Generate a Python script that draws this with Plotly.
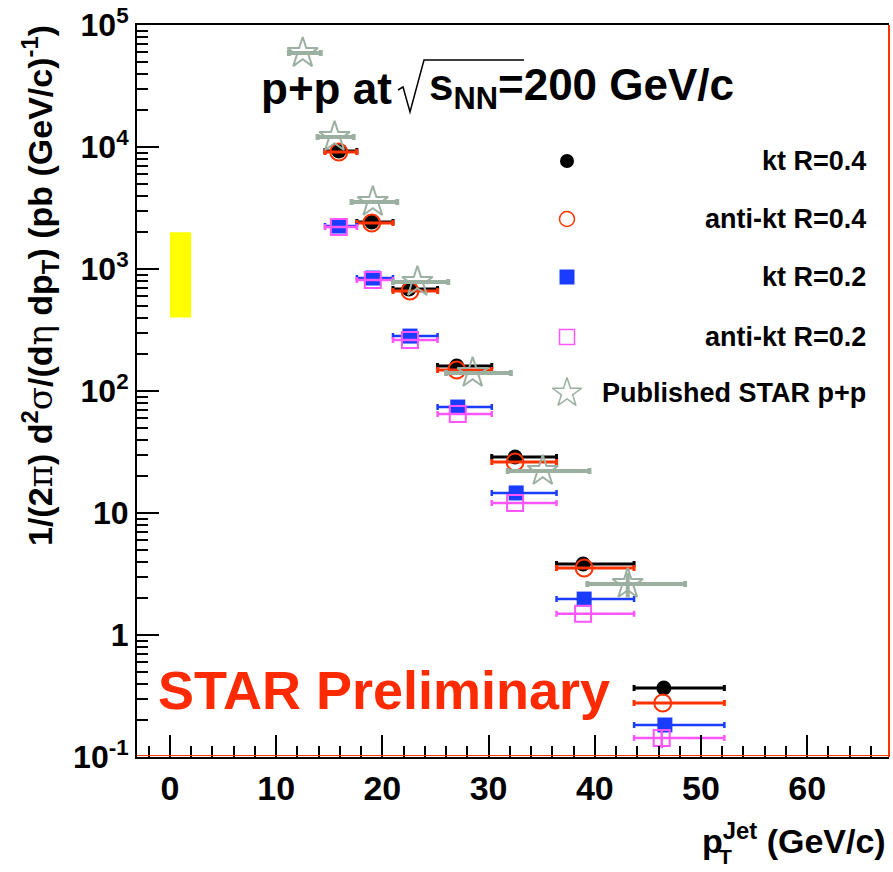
import plotly.graph_objects as go

# ---------------- data ----------------
# common bin edges for the four jet-finder spectra (GeV/c)
bin_lo = [14.6, 17.6, 21.0, 25.2, 30.3, 36.4, 43.7]
bin_hi = [17.6, 21.0, 25.2, 30.3, 36.4, 43.7, 52.2]

kt04_x = [15.9, 19.0, 22.5, 27.0, 32.5, 38.9, 46.5]
kt04_y = [9270, 2430, 686, 160, 28.8, 3.82, 0.368]

akt04_x = [15.9, 19.0, 22.6, 27.0, 32.5, 39.0, 46.4]
akt04_y = [9100, 2380, 661, 148.6, 26.2, 3.54, 0.277]

kt02_x = [15.9, 19.1, 22.6, 27.1, 32.6, 39.0, 46.6]
kt02_y = [2250, 843, 282, 73.9, 14.6, 1.97, 0.183]

akt02_x = [15.9, 19.1, 22.6, 27.1, 32.5, 38.9, 46.3]
akt02_y = [2210, 813, 262, 64.8, 12.1, 1.49, 0.143]
akt02_yerr = [0, 0, 0, 0, 0, 0, 0.025]

pub_x = [12.5, 15.5, 19.1, 23.3, 28.5, 35.1, 43.1]
pub_y = [58900, 12080, 3540, 782, 140.5, 22.1, 2.62]
pub_lo = [11.2, 13.9, 17.1, 21.0, 26.0, 31.8, 39.3]
pub_hi = [14.2, 17.3, 21.4, 26.2, 32.1, 39.5, 48.5]
pub_yerr = [0, 0, 0, 0, 0, 0, 0.6]

# normalisation uncertainty band
sys_x = [0, 2]
sys_y = [400, 2000]

legend_names = ["kt R=0.4", "anti-kt R=0.4", "kt R=0.2", "anti-kt R=0.2", "Published STAR p+p"]

# ---------------- styling ----------------
FONT = "Liberation Sans, Arial, Helvetica, sans-serif"
BLACK = "#000000"
RED = "#ff3300"
BLUE = "#1a3cff"
MAGENTA = "#ff55ff"
GRAY = "#9cb0a2"
W, H = 893, 872
L, R, T, B = 137, 4, 25, 115
PW, PH = W - L - R, H - T - B


def px(x):
    return (x - L) / PW


def py(y):
    return (H - B - y) / PH


def xerr(xs, lo, hi):
    return dict(type="data", symmetric=False,
                array=[h - x for x, h in zip(xs, hi)],
                arrayminus=[x - l for x, l in zip(xs, lo)])


fig = go.Figure()

fig.add_trace(go.Scatter(
    x=[sys_x[0], sys_x[1], sys_x[1], sys_x[0], sys_x[0]],
    y=[sys_y[0], sys_y[0], sys_y[1], sys_y[1], sys_y[0]],
    mode="lines", fill="toself", fillcolor="#ffff00",
    line=dict(width=0, color="#ffff00"), showlegend=False, hoverinfo="skip"))


def series(xs, ys, lo, hi, color, symbol, size, lw, thick, yerr=None):
    tr = go.Scatter(
        x=xs, y=ys, mode="markers", showlegend=False,
        marker=dict(symbol=symbol, size=size, color=color,
                    line=dict(width=lw, color=color)),
        error_x=dict(**xerr(xs, lo, hi), color=color, thickness=thick, width=3),
    )
    if yerr is not None:
        tr.error_y = dict(type="data", array=yerr, color=color, thickness=thick, width=0)
    fig.add_trace(tr)


series(kt04_x, kt04_y, bin_lo, bin_hi, BLACK, "circle", 15, 0, 3)
series(akt04_x, akt04_y, bin_lo, bin_hi, RED, "circle-open", 17, 2, 3)
series(kt02_x, kt02_y, bin_lo, bin_hi, BLUE, "square", 15, 0, 2.5)
series(akt02_x, akt02_y, bin_lo, bin_hi, MAGENTA, "square-open", 16, 2, 2.5, akt02_yerr)
series(pub_x, pub_y, pub_lo, pub_hi, GRAY, "star-open", 23, 2, 4, pub_yerr)

# legend keys on an overlay axis spanning the plot area (0..1)
leg_y = [py(161), py(219), py(277), py(337), py(393)]
leg_sym = [("circle", BLACK, 14, 0), ("circle-open", RED, 15, 1.5),
           ("square", BLUE, 15, 0), ("square-open", MAGENTA, 15, 1.5),
           ("star-open", GRAY, 22, 1.5)]
for (sym, col, sz, lw), yy in zip(leg_sym, leg_y):
    fig.add_trace(go.Scatter(x=[px(567)], y=[yy], xaxis="x2", yaxis="y2",
                             mode="markers", showlegend=False, hoverinfo="skip",
                             marker=dict(symbol=sym, size=sz, color=col,
                                         line=dict(width=lw, color=col))))

annotations = []
for name, yy in zip(legend_names, leg_y):
    annotations.append(dict(text=name, xref="paper", yref="paper", x=px(868), y=yy,
                            xanchor="right", yanchor="middle", showarrow=False,
                            font=dict(family=FONT, size=27, color="black", weight="bold")))

# title
annotations.append(dict(text="p+p at", xref="paper", yref="paper", x=px(394), y=py(88),
                        xanchor="right", yanchor="middle", showarrow=False,
                        font=dict(family=FONT, size=44, color="black", weight="bold")))
annotations.append(dict(text="s<sub>NN</sub>=200 GeV/c", xref="paper", yref="paper",
                        x=px(427), y=py(88), xanchor="left", yanchor="middle", showarrow=False,
                        font=dict(family=FONT, size=44, color="black", weight="bold")))

annotations.append(dict(text="STAR Preliminary", xref="paper", yref="paper", x=px(156), y=py(690),
                        xanchor="left", yanchor="middle", showarrow=False,
                        font=dict(family=FONT, size=54, color="#ff2a00", weight="bold")))

# axis titles
greek = "<span style='font-family:DejaVu Serif;font-weight:normal'>%s</span>"
ytitle = ("1/(2" + greek % "π" + ") d<sup>2</sup>" + greek % "σ" + "/(d" + greek % "η"
          + " dp<sub>T</sub>) (pb (GeV/c)<sup>-1</sup>)")
annotations.append(dict(text=ytitle, xref="paper", yref="paper", x=px(40), y=py(286),
                        xanchor="center", yanchor="middle", textangle=-90, showarrow=False,
                        font=dict(family=FONT, size=34, color="black", weight="bold")))
annotations.append(dict(text="p<sup>Jet</sup> (GeV/c)", xref="paper", yref="paper", x=px(888),
                        y=py(838), xanchor="right", yanchor="middle", showarrow=False,
                        font=dict(family=FONT, size=34, color="black", weight="bold")))
annotations.append(dict(text="T", xref="paper", yref="paper", x=px(725),
                        y=py(856), xanchor="center", yanchor="middle", showarrow=False,
                        font=dict(family=FONT, size=21, color="black", weight="bold")))

x_major = [0, 10, 20, 30, 40, 50, 60]
x_minor = [v for v in range(-2, 68, 2) if v % 10 != 0]
y_major = [0.1, 1, 10, 100, 1000, 10000, 100000]
y_ticktext = ["10<sup>-1</sup>", "1", "10", "10<sup>2</sup>", "10<sup>3</sup>",
              "10<sup>4</sup>", "10<sup>5</sup>"]
y_minor = [m * 10 ** e for e in range(-1, 5) for m in range(2, 10)]

shapes = [
    # radical sign and its overline
    dict(type="path", xref="paper", yref="paper",
         path=f"M {px(398)},{py(90)} L {px(403)},{py(87)} L {px(410)},{py(112)} "
              f"L {px(424)},{py(60)} L {px(524)},{py(60)}",
         line=dict(color="black", width=1.5)),
    # right and bottom frame edges
    dict(type="line", xref="paper", yref="paper", x0=1, x1=1, y0=0, y1=1,
         line=dict(color=RED, width=2)),
    dict(type="line", xref="paper", yref="paper", x0=0, x1=1, y0=0.002, y1=0.002,
         line=dict(color=RED, width=1)),
]

fig.update_layout(
    width=W, height=H,
    margin=dict(l=L, r=R, t=T, b=B),
    paper_bgcolor="white", plot_bgcolor="white",
    showlegend=False,
    annotations=annotations,
    shapes=shapes,
    xaxis=dict(range=[-3.1, 67.7], showgrid=False, zeroline=False,
               showline=True, linecolor="black", linewidth=2, mirror=True,
               ticks="inside", ticklen=22, tickwidth=1.5, tickcolor="black",
               tickvals=x_major, ticktext=[str(v) for v in x_major],
               tickfont=dict(family=FONT, size=34, color="black", weight="bold"),
               minor=dict(ticks="inside", ticklen=11, tickwidth=1.5, tickcolor="black",
                          tickvals=x_minor, showgrid=False)),
    yaxis=dict(type="log", range=[-1, 5], showgrid=False, zeroline=False,
               showline=True, linecolor="black", linewidth=2,
               ticks="inside", ticklen=22, tickwidth=1.5, tickcolor="black",
               tickvals=y_major, ticktext=y_ticktext,
               tickfont=dict(family=FONT, size=32, color="black", weight="bold"),
               minor=dict(ticks="inside", ticklen=11, tickwidth=1.5, tickcolor="black",
                          tickvals=y_minor, showgrid=False)),
    xaxis2=dict(overlaying="x", range=[0, 1], visible=False),
    yaxis2=dict(overlaying="y", range=[0, 1], visible=False),
)

fig.write_html("out.html")
